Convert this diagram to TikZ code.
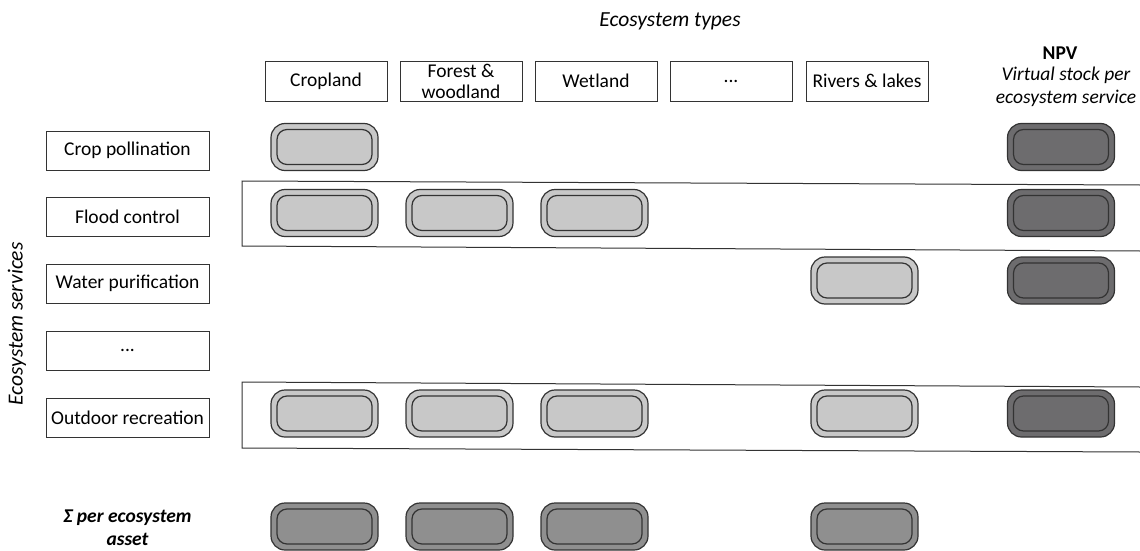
\documentclass[tikz,border=0pt]{standalone}
\usepackage{fontspec}
\setmainfont{Carlito}
\definecolor{edge}{HTML}{333333}
\definecolor{light}{HTML}{C8C8C8}
\definecolor{mid}{HTML}{8F8F8F}
\definecolor{dark}{HTML}{6D6C6E}
\tikzset{
  lbl/.style={draw=edge, line width=0.9pt, fill=white, inner sep=0pt,
    align=center, font=\fontsize{19.5}{21}\selectfont},
  rowbox/.style={lbl, minimum width=163pt, minimum height=39pt},
  colbox/.style={lbl, minimum width=122pt, minimum height=40pt},
  pill/.style={draw=edge, line width=1.2pt, fill=#1, rounded corners=14pt,
    minimum width=107pt, minimum height=47pt, inner sep=0pt,
    path picture={\draw[edge, line width=1.2pt, rounded corners=10pt]
      ([shift={(6pt,6pt)}]path picture bounding box.south west) rectangle
      ([shift={(-6pt,-6pt)}]path picture bounding box.north east);}},
  band/.style={draw=edge, line width=1pt},
  title/.style={font=\fontsize{21.5}{24}\selectfont\itshape},
}
\begin{document}
\begin{tikzpicture}[x=1pt, y=-1pt]
\useasboundingbox (0,0) rectangle (1140,551);

% slanted bands behind two rows
\draw[band] (1140,185) -- (242,181) -- (242,246) -- (1140,251);
\draw[band] (1140,387) -- (242,382) -- (242,448) -- (1140,452);

% headings
\node[title] (types) at (670,21) {Ecosystem types};
\node[title, rotate=90] (services) at (17,324) {Ecosystem services};
\node[font=\fontsize{19.5}{21}\selectfont\bfseries] (npv) at (1060,53) {NPV};
\node[font=\fontsize{19.5}{23}\selectfont\itshape, align=center] (npvsub) at (1066,87)
  {Virtual stock per\\ecosystem service};
\node[font=\fontsize{19.5}{23}\selectfont\bfseries\itshape, align=center] (sum) at (127.5,528)
  {Σ per ecosystem\\asset};

% ecosystem types
\node[colbox] (crop)  at (326,81) {Cropland};
\node[colbox] (forest) at (461,81) {Forest \&\\woodland};
\node[colbox] (wet)   at (596,81) {Wetland};
\node[colbox] (etc)   at (731,81) {...};
\node[colbox] (river) at (867,81) {Rivers \& lakes};

% ecosystem services
\node[rowbox] (poll)  at (127.5,150.5) {Crop pollination};
\node[rowbox] (flood) at (127.5,216.5) {Flood control};
\node[rowbox] (water) at (127.5,283.5) {Water purification};
\node[rowbox] (more)  at (127.5,350.5) {...};
\node[rowbox] (recr)  at (127.5,417.5) {Outdoor recreation};

% values per service and ecosystem type
\node[pill=light] (poll-crop) at (324.5,147) {};
\node[pill=dark]  (poll-npv)  at (1061,147) {};

\node[pill=light] (flood-crop)   at (324.5,213) {};
\node[pill=light] (flood-forest) at (459.5,213) {};
\node[pill=light] (flood-wet)    at (594.5,213) {};
\node[pill=dark]  (flood-npv)    at (1061,213) {};

\node[pill=light] (water-river) at (864.5,280.5) {};
\node[pill=dark]  (water-npv)   at (1061,280.5) {};

\node[pill=light] (recr-crop)   at (324.5,413.5) {};
\node[pill=light] (recr-forest) at (459.5,413.5) {};
\node[pill=light] (recr-wet)    at (594.5,413.5) {};
\node[pill=light] (recr-river)  at (864.5,413.5) {};
\node[pill=dark]  (recr-npv)    at (1061,413.5) {};

% totals per ecosystem asset
\node[pill=mid] (sum-crop)   at (324.5,526.5) {};
\node[pill=mid] (sum-forest) at (459.5,526.5) {};
\node[pill=mid] (sum-wet)    at (594.5,526.5) {};
\node[pill=mid] (sum-river)  at (864.5,526.5) {};
\end{tikzpicture}
\end{document}
